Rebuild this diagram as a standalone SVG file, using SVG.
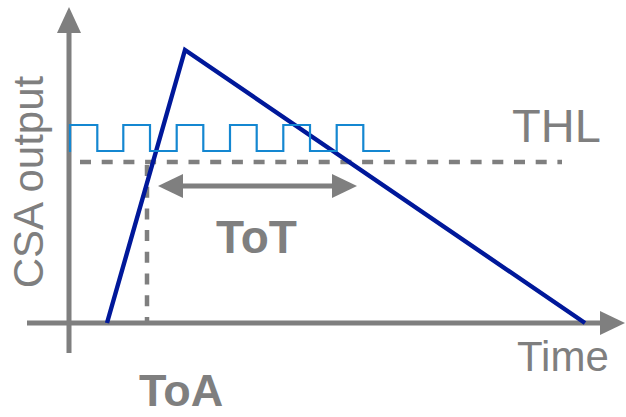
<svg xmlns="http://www.w3.org/2000/svg" width="626" height="417" viewBox="0 0 626 417">
<defs>
<style>
.ax{stroke:#7f7f7f;stroke-width:5;fill:none}
.head{fill:#7f7f7f}
.dash{stroke:#7f7f7f;stroke-width:4.5;stroke-dasharray:11 10.7;fill:none}
.sig{stroke:#00189a;stroke-width:4.4;fill:none;stroke-linejoin:miter}
.clk{stroke:#1487d1;stroke-width:2.2;fill:none}
.t{font-family:"Liberation Sans",Arial,sans-serif;fill:#7f7f7f}
.b{font-weight:bold}
</style>
</defs>
<g id="connectors">
<line class="ax" x1="69" y1="30" x2="69" y2="353"/>
<polygon class="head" points="69,7 57,33 81,33"/>
<line class="ax" x1="27" y1="323" x2="602" y2="323"/>
<polygon class="head" points="625,323 600,311 600,335"/>
<line class="dash" x1="80" y1="162" x2="562" y2="162"/>
<line class="dash" x1="147" y1="165" x2="147" y2="321"/>
<polyline class="sig" points="107,323 185,50 585,323"/>
<polyline class="clk" points="70,152 70,125 97.3,125 97.3,151 123.3,151 123.3,125 150,125 150,151 176.7,151 176.7,125 203.3,125 203.3,151 230,151 230,125 256.7,125 256.7,151 283.3,151 283.3,125 310,125 310,151 336.7,151 336.7,125 363.3,125 363.3,151 390,151"/>
<line class="ax" x1="178" y1="186" x2="337" y2="186"/>
<polygon class="head" points="158,186 183,174 183,198"/>
<polygon class="head" points="357,186 332,174 332,198"/>
</g>
<g id="label-csa"><text class="t" font-size="42" transform="translate(43,182) rotate(-90)" text-anchor="middle">CSA output</text></g>
<g id="label-thl"><text class="t" font-size="47" x="512" y="142">THL</text></g>
<g id="label-time"><text class="t" font-size="42" x="517" y="371">Time</text></g>
<g id="label-tot"><text class="t b" font-size="46" x="216" y="253">ToT</text></g>
<g id="label-toa"><text class="t b" font-size="45" x="139" y="406">ToA</text></g>
</svg>
